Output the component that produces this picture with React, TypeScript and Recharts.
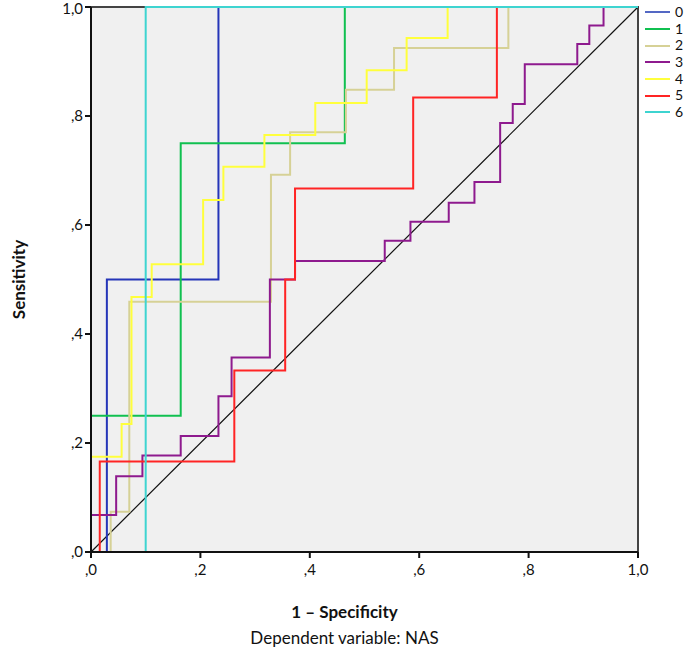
import React from 'react';
import {
  LineChart,
  Line,
  XAxis,
  YAxis,
  ReferenceArea,
  ReferenceLine,
} from 'recharts';

// ROC points (1 - specificity, sensitivity), drawn as steps
const roc0 = [
  { x: 0, y: 0 }, { x: 0.029, y: 0.5 }, { x: 0.233, y: 1 }, { x: 1, y: 1 },
];
const roc1 = [
  { x: 0, y: 0 }, { x: 0, y: 0.25 }, { x: 0.164, y: 0.75 }, { x: 0.464, y: 1 }, { x: 1, y: 1 },
];
const roc2 = [
  { x: 0, y: 0 }, { x: 0.036, y: 0.074 }, { x: 0.07, y: 0.459 }, { x: 0.329, y: 0.692 },
  { x: 0.364, y: 0.77 }, { x: 0.466, y: 0.848 }, { x: 0.554, y: 0.925 }, { x: 0.763, y: 1 },
  { x: 1, y: 1 },
];
const roc3 = [
  { x: 0, y: 0 }, { x: 0, y: 0.068 }, { x: 0.046, y: 0.139 }, { x: 0.094, y: 0.177 },
  { x: 0.164, y: 0.213 }, { x: 0.233, y: 0.286 }, { x: 0.257, y: 0.357 }, { x: 0.327, y: 0.5 },
  { x: 0.373, y: 0.534 }, { x: 0.537, y: 0.571 }, { x: 0.584, y: 0.606 }, { x: 0.654, y: 0.641 },
  { x: 0.701, y: 0.679 }, { x: 0.748, y: 0.787 }, { x: 0.771, y: 0.822 }, { x: 0.793, y: 0.895 },
  { x: 0.889, y: 0.932 }, { x: 0.911, y: 0.966 }, { x: 0.937, y: 1 }, { x: 1, y: 1 },
];
const roc4 = [
  { x: 0, y: 0 }, { x: 0, y: 0.175 }, { x: 0.056, y: 0.235 }, { x: 0.074, y: 0.468 },
  { x: 0.111, y: 0.528 }, { x: 0.205, y: 0.646 }, { x: 0.242, y: 0.707 }, { x: 0.317, y: 0.765 },
  { x: 0.41, y: 0.824 }, { x: 0.504, y: 0.884 }, { x: 0.577, y: 0.943 }, { x: 0.652, y: 1 },
  { x: 1, y: 1 },
];
const roc5 = [
  { x: 0, y: 0 }, { x: 0.016, y: 0.166 }, { x: 0.262, y: 0.333 }, { x: 0.355, y: 0.5 },
  { x: 0.373, y: 0.667 }, { x: 0.589, y: 0.834 }, { x: 0.742, y: 1 }, { x: 1, y: 1 },
];
const roc6 = [
  { x: 0, y: 0 }, { x: 0.1, y: 1 }, { x: 1, y: 1 },
];

const seriesNames = ['0', '1', '2', '3', '4', '5', '6'];
const ticks = [0, 0.2, 0.4, 0.6, 0.8, 1];

const series = [
  { name: seriesNames[0], data: roc0, color: '#2535b8', legend: '#5468c4' },
  { name: seriesNames[1], data: roc1, color: '#10c050', legend: '#10c050' },
  { name: seriesNames[2], data: roc2, color: '#d6d196', legend: '#d6d196' },
  { name: seriesNames[3], data: roc3, color: '#8e1a8e', legend: '#8e1a8e' },
  { name: seriesNames[4], data: roc4, color: '#ffff3c', legend: '#ffff3c' },
  { name: seriesNames[5], data: roc5, color: '#ff2424', legend: '#ff2424' },
  { name: seriesNames[6], data: roc6, color: '#3ed4d0', legend: '#3ed4d0' },
];

const fmt = (v: number) => (v >= 1 ? '1,0' : ',' + Math.round(v * 10));

const font = 'Lato, "Open Sans", sans-serif';

const XTitle = (props: any) => {
  const { viewBox } = props;
  const cx = viewBox.x + viewBox.width / 2 - 20;
  return (
    <g fontFamily={font} fill="#111">
      <text x={cx} y={618} textAnchor="middle" fontSize={17} fontWeight={700}>
        1 – Specificity
      </text>
      <text x={cx} y={644} textAnchor="middle" fontSize={17}>
        Dependent variable: NAS
      </text>
    </g>
  );
};

export default function App() {
  return (
    <div style={{ position: 'absolute', left: 0, top: 0, width: 685, height: 662, background: '#fff' }}>
      <LineChart
        width={685}
        height={662}
        margin={{ top: 7, right: 47, left: 51, bottom: 80 }}
      >
        <XAxis
          type="number"
          dataKey="x"
          domain={[0, 1]}
          ticks={ticks}
          tickFormatter={fmt}
          allowDuplicatedCategory={false}
          height={30}
          axisLine={{ stroke: '#111', strokeWidth: 2 }}
          tickLine={{ stroke: '#111', strokeWidth: 2 }}
          tickSize={6}
          tickMargin={6}
          tick={{ fill: '#111', fontSize: 15, fontFamily: font }}
          label={<XTitle />}
        />
        <YAxis
          type="number"
          dataKey="y"
          domain={[0, 1]}
          ticks={ticks}
          tickFormatter={fmt}
          width={40}
          axisLine={{ stroke: '#111', strokeWidth: 2 }}
          tickLine={{ stroke: '#111', strokeWidth: 2 }}
          tickSize={6}
          tick={{ fill: '#111', fontSize: 15, fontFamily: font }}
          label={{
            value: 'Sensitivity',
            angle: -90,
            position: 'insideLeft',
            offset: -32,
            style: { fontFamily: font, fontSize: 17, fontWeight: 700, fill: '#111', textAnchor: 'middle' },
          }}
        />
        <ReferenceArea
          x1={0}
          x2={1}
          y1={0}
          y2={1}
          fill="#f0f0f0"
          fillOpacity={1}
          stroke="#444"
          strokeWidth={2}
        />
        <ReferenceLine
          segment={[{ x: 0, y: 0 }, { x: 1, y: 1 }]}
          stroke="#111"
          strokeWidth={1.2}
        />
        {series.map((s) => (
          <Line
            key={s.name}
            name={s.name}
            data={s.data}
            dataKey="y"
            type="stepAfter"
            stroke={s.color}
            strokeWidth={2}
            dot={false}
            activeDot={false}
            isAnimationActive={false}
          />
        ))}
      </LineChart>
      <div
        style={{
          position: 'absolute',
          left: 645,
          top: 4,
          fontFamily: font,
          fontSize: 14,
          lineHeight: '16.7px',
          color: '#111',
        }}
      >
        {series.map((s) => (
          <div key={s.name} style={{ display: 'flex', alignItems: 'center', height: 16.7 }}>
            <div style={{ width: 25, height: 2, background: s.legend, marginRight: 5 }} />
            <span>{s.name}</span>
          </div>
        ))}
      </div>
    </div>
  );
}
